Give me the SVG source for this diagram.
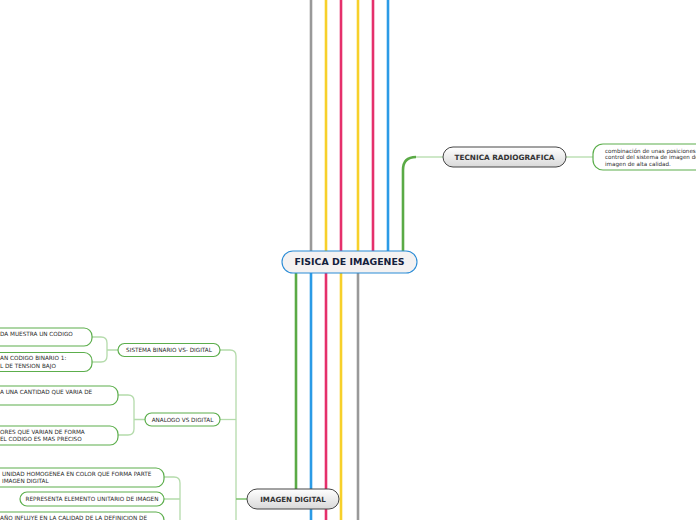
<svg xmlns="http://www.w3.org/2000/svg" width="696" height="520" viewBox="0 0 696 520">
<defs>
<linearGradient id="gg" x1="0" y1="0" x2="0" y2="1">
<stop offset="0" stop-color="#ffffff"/>
<stop offset="1" stop-color="#d9d9d9"/>
</linearGradient>
<style>
.deco{fill:none;stroke-width:2.6}
.thin{fill:none;stroke:#b4dbab;stroke-width:1.3}
.leaf{fill:#ffffff;stroke:#5cae4c;stroke-width:1.2}
.lt{font-family:"DejaVu Sans",Verdana,sans-serif;font-size:5.7px;fill:#2a2a2a}
.bt{font-family:"DejaVu Sans",Verdana,sans-serif;font-weight:bold;fill:#333}
.main{fill:url(#gg);stroke:#444;stroke-width:1}
</style>
</defs>
<rect width="696" height="520" fill="#ffffff"/>
<g id="connectors">
<line class="deco" x1="311" y1="0" x2="311" y2="252" stroke="#999999"/>
<line class="deco" x1="326" y1="0" x2="326" y2="252" stroke="#f7d02a"/>
<line class="deco" x1="341" y1="0" x2="341" y2="252" stroke="#e5306b"/>
<line class="deco" x1="358" y1="0" x2="358" y2="252" stroke="#f7d02a"/>
<line class="deco" x1="373" y1="0" x2="373" y2="252" stroke="#e5306b"/>
<line class="deco" x1="388" y1="0" x2="388" y2="252" stroke="#2b9be6"/>
<path class="deco" d="M403,252 V170 Q403,157 416,157" stroke="#5aaa46"/>
<path class="thin" d="M416,157 H443"/>
<path class="thin" d="M566,157 H593"/>
<line class="deco" x1="296" y1="272" x2="296" y2="490" stroke="#5aaa46"/>
<line class="deco" x1="311" y1="272" x2="311" y2="520" stroke="#2b9be6"/>
<line class="deco" x1="326" y1="272" x2="326" y2="520" stroke="#e5306b"/>
<line class="deco" x1="341" y1="272" x2="341" y2="520" stroke="#f7d02a"/>
<line class="deco" x1="358" y1="272" x2="358" y2="520" stroke="#999999"/>
<path class="thin" d="M220,350 H230 Q236,350 236,356 V520"/>
<path class="thin" d="M220,419.5 H236"/>
<path fill="none" stroke="#7cc06c" stroke-width="1.5" d="M236,499 H247"/>
<path class="thin" d="M118,350 H107 M92,337 H101 Q107,337 107,343 V356 Q107,362 101,362 H92"/>
<path class="thin" d="M145,419.5 H134 M118,395 H128 Q134,395 134,401 V429 Q134,435 128,435 H118"/>
<path class="thin" d="M164,477 H174 Q180,477 180,483 V520 M164,499 H180 M164,521 H180"/>
</g>
<g id="central">
<rect x="282" y="251" width="135" height="22" rx="11" fill="#f4f2f2" stroke="#2b8cd6" stroke-width="1.1"/>
<text x="349.5" y="265.3" text-anchor="middle" class="bt" style="font-size:9.4px;fill:#14213d">FISICA DE IMAGENES</text>
</g>
<g id="tecnica">
<rect x="443" y="147" width="123" height="20" rx="10" class="main"/>
<text x="504.5" y="160.2" text-anchor="middle" class="bt" style="font-size:7.3px">TECNICA RADIOGRAFICA</text>
</g>
<g id="nota">
<rect x="593" y="144" width="120" height="26" rx="10" class="leaf"/>
<text class="lt" x="605" y="152.5" style="font-size:5.6px">combinación de unas posiciones</text>
<text class="lt" x="605" y="159" style="font-size:5.6px">control del sistema de imagen de</text>
<text class="lt" x="605" y="165.5" style="font-size:5.6px">imagen de alta calidad.</text>
</g>
<g id="imagen-digital">
<rect x="247" y="489" width="92" height="20" rx="10" class="main"/>
<text x="293" y="502.2" text-anchor="middle" class="bt" style="font-size:7.1px">IMAGEN DIGITAL</text>
</g>
<g id="sistema">
<rect x="118" y="343.5" width="102" height="13" rx="6.5" class="leaf"/>
<text x="169" y="352" text-anchor="middle" class="lt">SISTEMA BINARIO VS- DIGITAL</text>
</g>
<g id="sistema-1">
<rect x="-20" y="328" width="112" height="18" rx="8" class="leaf"/>
<text x="0" y="336" class="lt">DA MUESTRA UN CODIGO</text>
</g>
<g id="sistema-2">
<rect x="-20" y="352.5" width="112" height="19" rx="8" class="leaf"/>
<text x="0" y="360" class="lt">AN CODIGO BINARIO 1:</text>
<text x="0" y="367.5" class="lt">L DE TENSION BAJO</text>
</g>
<g id="analogo">
<rect x="145" y="413" width="75" height="13" rx="6.5" class="leaf"/>
<text x="182.5" y="421.5" text-anchor="middle" class="lt">ANALOGO VS DIGITAL</text>
</g>
<g id="analogo-1">
<rect x="-20" y="386" width="138" height="19" rx="8" class="leaf"/>
<text x="0" y="393.5" class="lt">A UNA CANTIDAD QUE VARIA DE</text>
</g>
<g id="analogo-2">
<rect x="-20" y="426" width="138" height="19" rx="8" class="leaf"/>
<text x="0" y="433.5" class="lt">ORES QUE VARIAN DE FORMA</text>
<text x="0" y="441" class="lt">EL CODIGO ES MAS PRECISO</text>
</g>
<g id="pixel-1">
<rect x="-20" y="468" width="184" height="19" rx="8" class="leaf"/>
<text x="2" y="475.5" class="lt">UNIDAD HOMOGENEA EN COLOR QUE FORMA PARTE</text>
<text x="2" y="483" class="lt">IMAGEN DIGITAL</text>
</g>
<g id="pixel-2">
<rect x="20" y="492" width="144" height="14" rx="7" class="leaf"/>
<text x="92" y="501" text-anchor="middle" class="lt">REPRESENTA ELEMENTO UNITARIO DE IMAGEN</text>
</g>
<g id="pixel-3">
<rect x="-20" y="512" width="184" height="19" rx="8" class="leaf"/>
<text x="0" y="519.5" class="lt">AÑO INFLUYE EN LA CALIDAD DE LA DEFINICION DE</text>
</g>
</svg>
